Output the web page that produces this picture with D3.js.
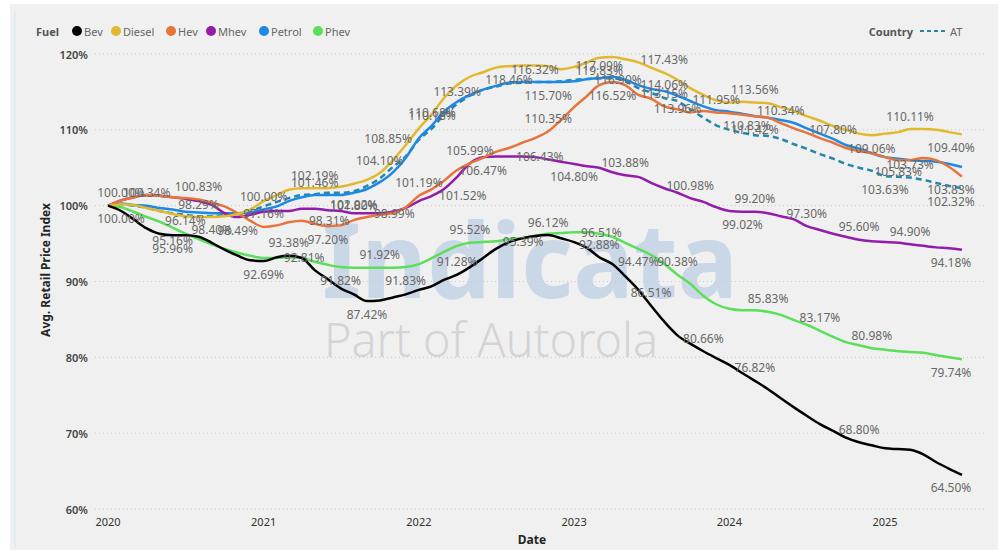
<!DOCTYPE html>
<html>
<head>
<meta charset="utf-8">
<script src="https://cdnjs.cloudflare.com/ajax/libs/d3/7.8.5/d3.min.js"></script>
<style>
  body { margin: 0; background: #ffffff; }
  text { font-family: "Noto Sans", "Open Sans", sans-serif; }
</style>
</head>
<body>
<div id="chart"></div>
<script>
// months Jan 2020 .. Jul 2025
const months = d3.timeMonth.range(new Date(2020, 0, 1), new Date(2025, 7, 1));
const yearTicks = [2020, 2021, 2022, 2023, 2024, 2025];
const yTicks = [60, 70, 80, 90, 100, 110, 120];

const bev = [100.00, 99.3, 98.2, 97.0, 96.3, 96.1, 96.1, 95.9, 95.1, 94.2,
  93.4, 92.8, 92.69, 93.2, 93.38, 93.1, 91.5, 90.3, 89.1, 88.3,
  87.42, 87.5, 87.9, 88.3, 88.9, 89.4, 90.2, 90.9, 91.9, 93.1,
  94.3, 95.2, 95.7, 96.0, 96.12, 95.7, 95.2, 94.4, 93.2, 92.3,
  90.7, 88.9, 86.8, 84.7, 82.9, 81.8, 80.8, 79.9, 79.0, 77.9,
  76.9, 75.8, 74.6, 73.4, 72.3, 71.2, 70.3, 69.4, 68.8, 68.4,
  68.0, 67.9, 67.8, 67.2, 66.2, 65.3, 64.50];
const diesel = [100.00, 100.2, 100.1, 99.7, 99.3, 98.9, 98.6, 98.5, 98.5, 98.6,
  98.9, 99.5, 100.6, 101.4, 102.1, 102.3, 102.3, 102.3, 102.5, 102.9,
  103.4, 104.3, 106.0, 108.0, 110.2, 112.1, 114.2, 115.9, 117.0, 117.6,
  118.2, 118.4, 118.5, 118.5, 118.4, 118.0, 118.3, 118.9, 119.5, 119.6,
  119.3, 118.9, 118.2, 117.5, 116.6, 115.5, 114.6, 113.9, 113.6, 113.7,
  113.6, 113.5, 113.0, 112.5, 111.8, 111.2, 110.5, 110.0, 109.5, 109.3,
  109.5, 109.7, 110.1, 110.1, 110.0, 109.7, 109.40];
const hev = [100.00, 100.7, 101.1, 101.4, 101.3, 101.1, 101.0, 100.8, 100.4, 99.9,
  99.0, 98.0, 97.2, 97.4, 97.8, 98.0, 97.6, 97.3, 97.4, 98.1,
  98.5, 98.8, 99.0, 99.8, 101.3, 102.2, 103.3, 104.7, 105.6, 106.3,
  107.1, 107.6, 108.3, 108.9, 109.8, 111.3, 113.0, 114.5, 115.9, 116.3,
  115.9, 114.6, 114.1, 113.1, 112.7, 112.3, 112.5, 112.3, 112.2, 112.0,
  111.8, 111.6, 110.9, 110.2, 109.6, 108.9, 108.3, 107.6, 107.2, 106.9,
  106.4, 106.0, 106.0, 106.3, 106.0, 105.1, 103.83];
const mhev = [100.00, 100.7, 101.1, 101.4, 101.3, 101.1, 100.9, 100.6, 100.1, 99.0,
  98.5, 98.8, 99.2, 99.3, 99.3, 99.6, 99.6, 99.4, 99.3, 99.0,
  99.0, 99.0, 99.2, 99.7, 100.6, 101.3, 102.2, 103.8, 105.6, 106.4,
  106.5, 106.5, 106.5, 106.4, 106.1, 105.8, 105.5, 105.2, 105.0, 104.4,
  104.0, 103.8, 103.0, 102.3, 101.7, 101.0, 100.5, 99.8, 99.3, 99.2,
  99.2, 99.0, 98.6, 98.2, 97.3, 96.8, 96.3, 95.9, 95.5, 95.3,
  95.2, 95.1, 94.9, 94.7, 94.5, 94.4, 94.18];
const petrol = [100.00, 100.3, 100.1, 100.0, 99.7, 99.5, 99.2, 99.1, 99.0, 99.0,
  99.0, 99.1, 99.5, 99.9, 100.6, 101.1, 101.4, 101.4, 101.4, 101.7,
  102.2, 103.1, 104.4, 106.3, 108.9, 110.6, 112.4, 113.7, 114.6, 115.3,
  115.8, 116.2, 116.3, 116.3, 116.3, 116.3, 116.4, 116.7, 116.8, 117.0,
  116.6, 115.9, 115.4, 115.1, 114.5, 113.8, 113.1, 112.6, 112.4, 112.1,
  111.8, 111.6, 111.3, 110.9, 110.2, 109.5, 108.8, 108.0, 107.5, 106.9,
  106.4, 106.2, 106.0, 105.9, 105.8, 105.5, 105.1];
const phev = [100.00, 99.8, 99.2, 98.5, 97.9, 97.1, 96.3, 95.6, 94.9, 94.3,
  93.8, 93.4, 93.1, 93.1, 93.2, 93.1, 92.6, 92.2, 91.9, 91.8,
  91.8, 91.8, 91.8, 91.9, 92.3, 93.1, 93.9, 94.7, 95.1, 95.2,
  95.3, 95.6, 95.7, 96.0, 96.3, 96.4, 96.5, 96.5, 96.3, 95.9,
  95.1, 94.3, 93.5, 92.3, 90.9, 89.7, 88.1, 87.0, 86.4, 86.2,
  86.2, 86.0, 85.6, 84.9, 84.3, 83.5, 82.7, 82.0, 81.6, 81.2,
  81.0, 80.8, 80.7, 80.6, 80.3, 80.0, 79.74];
const at = [100.00, 100.2, 100.0, 99.7, 99.3, 99.0, 98.8, 98.6, 98.6, 98.8,
  98.9, 99.3, 99.9, 100.5, 101.0, 101.4, 101.5, 101.7, 101.7, 101.9,
  102.6, 103.6, 105.1, 106.5, 108.7, 110.2, 112.0, 113.4, 114.5, 115.3,
  115.7, 116.1, 116.2, 116.3, 116.3, 116.4, 116.6, 116.7, 116.8, 116.8,
  116.4, 115.5, 114.9, 114.2, 113.8, 112.7, 111.6, 110.6, 110.0, 109.6,
  109.3, 109.2, 108.8, 108.1, 107.5, 106.8, 106.2, 105.5, 105.0, 104.6,
  103.9, 103.8, 103.7, 103.4, 103.0, 102.6, 102.32];

const fuelNames = ['Bev', 'Diesel', 'Hev', 'Mhev', 'Petrol', 'Phev'];

// data labels: series, month index, text, placement (a=above, b=below, r=right, l=left)
const labels = [
  ['Diesel', 0, '100.00%', 'a'], ['Bev', 0, '100.00%', 'b'], ['Petrol', 3, '100.34%', 'a'],
  ['Hev', 7, '100.83%', 'a'], ['Diesel', 7, '98.29%', 'a'], ['Phev', 6, '96.14%', 'a'],
  ['Phev', 5, '95.16%', 'b'], ['Bev', 5, '95.96%', 'b'], ['At', 8, '98.40%', 'b'],
  ['Mhev', 10, '98.49%', 'b'], ['Hev', 12, '97.16%', 'a'], ['Petrol', 12, '100.00%', 'a'],
  ['Bev', 12, '92.69%', 'b'], ['Bev', 14, '93.38%', 'a'], ['Hev', 17, '97.20%', 'b'],
  ['Phev', 13, '92.81%', 'r'], ['Phev', 18, '91.82%', 'b'], ['Diesel', 16, '102.19%', 'a'],
  ['Petrol', 16, '101.46%', 'a'], ['At', 19, '102.02%', 'b'], ['Petrol', 19, '101.80%', 'b'],
  ['Hev', 15, '98.31%', 'r'], ['Mhev', 20, '98.99%', 'r'], ['Diesel', 21, '104.10%', 'a'],
  ['Hev', 24, '101.19%', 'a'], ['Phev', 21, '91.92%', 'a'], ['Phev', 23, '91.83%', 'b'],
  ['Bev', 20, '87.42%', 'b'], ['Petrol', 24, '108.85%', 'l'], ['Petrol', 25, '110.68%', 'a'],
  ['At', 25, '110.18%', 'a'], ['At', 27, '113.39%', 'a'], ['Diesel', 31, '118.46%', 'b'],
  ['Petrol', 33, '116.32%', 'a'], ['At', 34, '115.70%', 'b'], ['Hev', 34, '110.35%', 'a'],
  ['Hev', 28, '105.99%', 'a'], ['Mhev', 29, '106.47%', 'b'], ['Mhev', 31, '106.43%', 'r'],
  ['Mhev', 25, '101.52%', 'r'], ['Mhev', 40, '103.88%', 'a'], ['Mhev', 36, '104.80%', 'b'],
  ['Petrol', 38, '117.09%', 'a'], ['Diesel', 38, '119.83%', 'b'], ['At', 37, '116.90%', 'r'],
  ['Hev', 39, '116.52%', 'b'], ['Diesel', 43, '117.43%', 'a'], ['At', 43, '114.06%', 'a'],
  ['Hev', 43, '113.15%', 'a'], ['Petrol', 44, '113.96%', 'b'], ['Diesel', 50, '113.56%', 'a'],
  ['Hev', 47, '111.95%', 'a'], ['Hev', 52, '110.34%', 'a'], ['At', 47, '110.83%', 'r'],
  ['Petrol', 50, '111.42%', 'b'], ['Hev', 56, '107.80%', 'a'], ['Diesel', 59, '109.06%', 'b'],
  ['Diesel', 62, '110.11%', 'a'], ['Diesel', 66, '109.40%', 'b'], ['At', 62, '103.73%', 'a'],
  ['Petrol', 61, '105.83%', 'b'], ['At', 60, '103.63%', 'b'], ['Hev', 66, '103.83%', 'b'],
  ['At', 66, '102.32%', 'b'], ['Mhev', 45, '100.98%', 'a'], ['Mhev', 50, '99.20%', 'a'],
  ['Mhev', 49, '99.02%', 'b'], ['Mhev', 54, '97.30%', 'a'], ['Mhev', 58, '95.60%', 'a'],
  ['Mhev', 62, '94.90%', 'a'], ['Mhev', 66, '94.18%', 'b'], ['Phev', 28, '95.52%', 'a'],
  ['Bev', 27, '91.28%', 'a'], ['Bev', 34, '96.12%', 'a'], ['Phev', 30, '95.39%', 'r'],
  ['Phev', 36, '96.51%', 'r'], ['Bev', 38, '92.88%', 'a'], ['Phev', 41, '94.47%', 'b'],
  ['Phev', 44, '90.38%', 'a'], ['Bev', 42, '86.51%', 'a'], ['Bev', 46, '80.66%', 'a'],
  ['Phev', 51, '85.83%', 'a'], ['Bev', 50, '76.82%', 'a'], ['Phev', 55, '83.17%', 'a'],
  ['Phev', 59, '80.98%', 'a'], ['Phev', 66, '79.74%', 'b'], ['Bev', 58, '68.80%', 'a'],
  ['Bev', 66, '64.50%', 'b']
];

const series = {
  'Bev': { values: bev, color: '#000000' },
  'Diesel': { values: diesel, color: '#E0B92E' },
  'Hev': { values: hev, color: '#E8743B' },
  'Mhev': { values: mhev, color: '#931CAB' },
  'Petrol': { values: petrol, color: '#1E88E5' },
  'Phev': { values: phev, color: '#5BDF5B' },
  'At': { values: at, color: '#2486AA', dash: '6,4' }
};

const width = 1002, height = 557;
const svg = d3.select('#chart').append('svg').attr('width', width).attr('height', height);

// panel
svg.append('rect').attr('x', 10).attr('y', 4).attr('width', 988).attr('height', 546).attr('fill', '#f0f0f0');
svg.append('line').attr('x1', 15).attr('x2', 15).attr('y1', 12).attr('y2', 548)
  .attr('stroke', '#cdeef0').attr('stroke-width', 1);

const x = d3.scaleTime().domain([new Date(2020, 0, 1), new Date(2025, 0, 1)]).range([108, 885]);
const y = d3.scaleLinear().domain([60, 120]).range([509, 54]);

// watermark
svg.append('text').attr('x', 322).attr('y', 298).attr('textLength', 416).attr('lengthAdjust', 'spacingAndGlyphs')
  .style('font-size', '104px').style('font-weight', 'bold').style('fill', '#cad7e7').text('Indicata');
svg.append('text').attr('x', 324).attr('y', 357).attr('textLength', 334).attr('lengthAdjust', 'spacingAndGlyphs')
  .style('font-size', '48px').style('font-weight', '300').style('fill', '#d4d4d4').text('Part of Autorola');

// gridlines + y ticks
svg.append('g').selectAll('line').data(yTicks).join('line')
  .attr('x1', 95).attr('x2', 985)
  .attr('y1', d => y(d)).attr('y2', d => y(d))
  .attr('stroke', '#c8c8c8').attr('stroke-dasharray', '1,3');

svg.append('g').selectAll('text').data(yTicks).join('text')
  .attr('x', 88).attr('y', d => y(d))
  .style('text-anchor', 'end').style('dominant-baseline', 'central')
  .style('font-size', '11px').style('font-weight', '600').style('fill', '#444')
  .text(d => d + '%');

svg.append('g').selectAll('text').data(yearTicks).join('text')
  .attr('x', d => x(new Date(d, 0, 1))).attr('y', 521)
  .style('text-anchor', 'middle').style('dominant-baseline', 'central')
  .style('font-size', '11px').style('fill', '#333')
  .text(d => d);

svg.append('text').attr('x', 532).attr('y', 539)
  .style('text-anchor', 'middle').style('dominant-baseline', 'central')
  .style('font-size', '12px').style('font-weight', 'bold').style('fill', '#252525').text('Date');

svg.append('text').attr('transform', 'translate(45,270) rotate(-90)')
  .style('text-anchor', 'middle').style('dominant-baseline', 'central')
  .style('font-size', '12px').style('font-weight', 'bold').style('fill', '#252525').text('Avg. Retail Price Index');

// lines
const line = d3.line()
  .x((d, i) => x(months[i]))
  .y(d => y(d))
  .curve(d3.curveMonotoneX);

const order = ['At', 'Phev', 'Petrol', 'Mhev', 'Hev', 'Diesel', 'Bev'];
order.forEach(name => {
  const s = series[name];
  svg.append('path')
    .attr('d', line(s.values))
    .attr('fill', 'none')
    .attr('stroke', s.color)
    .attr('stroke-width', 2.5)
    .attr('stroke-linejoin', 'round')
    .attr('stroke-dasharray', s.dash || null);
});

// data labels
svg.append('g').selectAll('text').data(labels).join('text')
  .attr('x', d => {
    const px = x(months[d[1]]);
    if (d[3] === 'r') return px + 7;
    if (d[3] === 'l') return px - 7;
    return Math.max(121, Math.min(951, px));
  })
  .attr('y', d => {
    const py = y(series[d[0]].values[d[1]]);
    if (d[3] === 'a') return py - 13;
    if (d[3] === 'b') return py + 13;
    return py;
  })
  .style('text-anchor', d => d[3] === 'r' ? 'start' : (d[3] === 'l' ? 'end' : 'middle'))
  .style('dominant-baseline', 'central')
  .style('font-size', '12px')
  .style('fill', '#686868')
  .text(d => d[2]);

// legend
const legend = svg.append('g');
legend.append('text').attr('x', 36).attr('y', 31).style('dominant-baseline', 'central')
  .style('font-size', '11px').style('font-weight', 'bold').style('fill', '#555').text('Fuel');
const legendX = [77, 116, 171, 211, 264, 318];
fuelNames.forEach((name, i) => {
  legend.append('circle').attr('cx', legendX[i]).attr('cy', 31).attr('r', 5).attr('fill', series[name].color);
  legend.append('text').attr('x', legendX[i] + 7).attr('y', 31).style('dominant-baseline', 'central')
    .style('font-size', '11px').style('fill', '#666').text(name);
});
legend.append('text').attr('x', 913).attr('y', 31).style('text-anchor', 'end').style('dominant-baseline', 'central')
  .style('font-size', '11px').style('font-weight', 'bold').style('fill', '#555').text('Country');
legend.append('line').attr('x1', 920).attr('x2', 945).attr('y1', 31).attr('y2', 31)
  .attr('stroke', series['At'].color).attr('stroke-width', 2).attr('stroke-dasharray', '4,3');
legend.append('text').attr('x', 950).attr('y', 31).style('dominant-baseline', 'central')
  .style('font-size', '11px').style('fill', '#666').text('AT');
</script>
</body>
</html>
